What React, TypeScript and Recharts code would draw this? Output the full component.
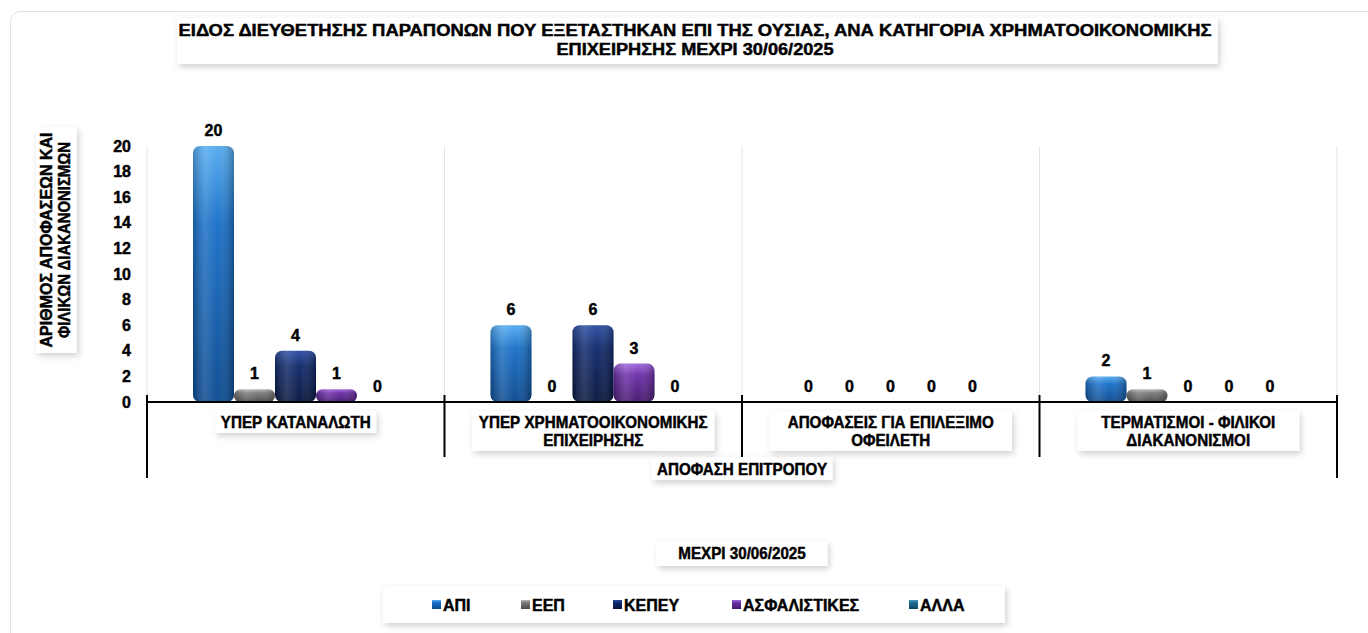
// @ts-nocheck
import React from 'react';
import { BarChart, Bar, XAxis, YAxis, CartesianGrid, LabelList } from 'recharts';

// category labels (line-broken as in the picture)
const categoryLines = [
    ['ΥΠΕΡ ΚΑΤΑΝΑΛΩΤΗ'],
    ['ΥΠΕΡ ΧΡΗΜΑΤΟΟΙΚΟΝΟΜΙΚΗΣ', 'ΕΠΙΧΕΙΡΗΣΗΣ'],
    ['ΑΠΟΦΑΣΕΙΣ ΓΙΑ ΕΠΙΛΕΞΙΜΟ', 'ΟΦΕΙΛΕΤΗ'],
    ['ΤΕΡΜΑΤΙΣΜΟΙ - ΦΙΛΙΚΟΙ', 'ΔΙΑΚΑΝΟΝΙΣΜΟΙ'],
];

const apiValues = [20, 6, 0, 2];
const eepValues = [1, 0, 0, 1];
const kepeyValues = [4, 6, 0, 0];
const asfValues = [1, 3, 0, 0];
const allaValues = [0, 0, 0, 0];

const yTicks = [0, 2, 4, 6, 8, 10, 12, 14, 16, 18, 20];

const titleLines = [
    'ΕΙΔΟΣ ΔΙΕΥΘΕΤΗΣΗΣ ΠΑΡΑΠΟΝΩΝ ΠΟΥ ΕΞΕΤΑΣΤΗΚΑΝ ΕΠΙ ΤΗΣ ΟΥΣΙΑΣ, ΑΝΑ ΚΑΤΗΓΟΡΙΑ ΧΡΗΜΑΤΟΟΙΚΟΝΟΜΙΚΗΣ',
    'ΕΠΙΧΕΙΡΗΣΗΣ ΜΕΧΡΙ 30/06/2025',
];
const yLabelLines = ['ΑΡΙΘΜΟΣ ΑΠΟΦΑΣΕΩΝ ΚΑΙ', 'ΦΙΛΙΚΩΝ ΔΙΑΚΑΝΟΝΙΣΜΩΝ'];
const xGroupLabel = 'ΑΠΟΦΑΣΗ ΕΠΙΤΡΟΠΟΥ';
const periodLabel = 'ΜΕΧΡΙ 30/06/2025';

const series = [
    { key: 'api', name: 'ΑΠΙ', values: apiValues, color: '#1a70c8', light: '#55acf0', dark: '#0b4a90' },
    { key: 'eep', name: 'ΕΕΠ', values: eepValues, color: '#7a7a7a', light: '#b8b8b8', dark: '#4a4a4a' },
    { key: 'kepey', name: 'ΚΕΠΕΥ', values: kepeyValues, color: '#10296a', light: '#2b4ea2', dark: '#07163e' },
    { key: 'asf', name: 'ΑΣΦΑΛΙΣΤΙΚΕΣ', values: asfValues, color: '#6c2ea8', light: '#a066dc', dark: '#44176e' },
    { key: 'alla', name: 'ΑΛΛΑ', values: allaValues, color: '#1e6d92', light: '#4a9cc4', dark: '#104862' },
];

const data = categoryLines.map((lines, i) => {
    const row: any = { cat: lines.join(' '), lines };
    series.forEach((s) => { row[s.key] = s.values[i]; });
    return row;
});

// layout
const W = 1368;
const H = 633;
const PLOT_LEFT = 147;
const PLOT_RIGHT = 1337;
const PLOT_TOP = 146;
const AXIS_Y = 402;
const Y_AXIS_W = 40;
const X_AXIS_H = 80;
const BAND = (PLOT_RIGHT - PLOT_LEFT) / categoryLines.length;
const FONT = '"Liberation Sans", Arial, sans-serif';
const FS = 16;
const SQUEEZE = 0.95;
const HEAVY = { stroke: '#000', strokeWidth: 0.45 };

const textW = (s: string, size = FS) => s.length * size * 0.67 * SQUEEZE;

// bold, slightly condensed label text
const T = ({ x, y, children, anchor = 'middle', rotate = 0, length = null, size = FS, squeeze = SQUEEZE }) => (
    <text
        transform={`translate(${x}, ${y}) rotate(${rotate})${length ? '' : ` scale(${squeeze}, 1)`}`}
        textAnchor={anchor}
        fontFamily={FONT}
        fontWeight="bold"
        fontSize={size}
        fill="#000"
        {...HEAVY}
        textLength={length || undefined}
        lengthAdjust={length ? 'spacingAndGlyphs' : undefined}
    >
        {children}
    </text>
);

const CylBar = (props) => {
    const { x, y, width, height, fill } = props;
    if (!height || height <= 0) return null;
    const r = Math.min(7, height / 2);
    return (
        <g>
            <rect x={x} y={y} width={width} height={height} rx={r} ry={r} fill={fill} />
            <rect x={x} y={y} width={width} height={height} rx={r} ry={r} fill="url(#shine)" />
        </g>
    );
};

const CategoryTick = (props) => {
    const { x, y, payload, index } = props;
    const lines = data[index]?.lines || [payload.value];
    const left = x - BAND / 2;
    const right = x + BAND / 2;
    const boxW = Math.max(...lines.map((l) => textW(l))) + 8;
    const boxH = lines.length * 18 + 4;
    return (
        <g>
            <line x1={left} x2={left} y1={y - 7} y2={y + (index === 0 ? 76 : 55)} stroke="#000" strokeWidth={2} />
            {index === categoryLines.length - 1 && (
                <line x1={right} x2={right} y1={y - 7} y2={y + 76} stroke="#000" strokeWidth={2} />
            )}
            <rect x={x - boxW / 2} y={y + 9} width={boxW} height={boxH} fill="#fff" filter="url(#boxShadow)" />
            {lines.map((l, i) => (
                <T key={i} x={x} y={y + 26 + i * 18}>{l}</T>
            ))}
        </g>
    );
};

const Overlay = () => {
    const legendItemX = [432, 521, 613, 732, 909];
    const gW = textW(xGroupLabel);
    const pW = textW(periodLabel);
    return (
        <svg width={W} height={H} style={{ position: 'absolute', left: 0, top: 0, pointerEvents: 'none' }}>
            <defs>
                <filter id="boxShadow" x="-20%" y="-40%" width="140%" height="200%">
                    <feDropShadow dx="2" dy="3" stdDeviation="3" floodColor="#000" floodOpacity="0.18" />
                </filter>
                <linearGradient id="shine" x1="0" y1="0" x2="1" y2="0">
                    <stop offset="0%" stopColor="#000" stopOpacity="0.22" />
                    <stop offset="30%" stopColor="#fff" stopOpacity="0.15" />
                    <stop offset="60%" stopColor="#fff" stopOpacity="0.03" />
                    <stop offset="100%" stopColor="#000" stopOpacity="0.28" />
                </linearGradient>
                {series.map((s) => (
                    <linearGradient key={s.key} id={`g-${s.key}`} x1="0" y1="0" x2="0" y2="1">
                        <stop offset="0%" stopColor={s.light} />
                        <stop offset="30%" stopColor={s.color} />
                        <stop offset="100%" stopColor={s.dark} />
                    </linearGradient>
                ))}
            </defs>

            {/* title */}
            <rect x={177} y={18} width={1041} height={46} fill="#fff" filter="url(#boxShadow)" />
            <T x={695} y={36} length={1033}>{titleLines[0]}</T>
            <T x={695} y={55} length={277}>{titleLines[1]}</T>

            {/* y axis title */}
            <rect x={36} y={127} width={41} height={226} fill="#fff" filter="url(#boxShadow)" />
            <T x={52} y={240} rotate={-90} length={215}>{yLabelLines[0]}</T>
            <T x={70} y={240} rotate={-90} length={196}>{yLabelLines[1]}</T>

            {/* category group label */}
            <rect x={742 - gW / 2 - 4} y={457} width={gW + 8} height={23} fill="#fff" filter="url(#boxShadow)" />
            <T x={742} y={475}>{xGroupLabel}</T>

            {/* period label */}
            <rect x={742 - pW / 2 - 4} y={541} width={pW + 8} height={25} fill="#fff" filter="url(#boxShadow)" />
            <T x={742} y={559}>{periodLabel}</T>

            {/* legend */}
            <rect x={383} y={586} width={622} height={37} fill="#fff" filter="url(#boxShadow)" />
            {series.map((s, i) => (
                <g key={s.key}>
                    <rect x={legendItemX[i]} y={600} width={9} height={9} fill={`url(#g-${s.key})`} />
                    <T x={legendItemX[i] + 11} y={611} anchor="start" squeeze={1}>{s.name}</T>
                </g>
            ))}
        </svg>
    );
};

export default function App() {
    return (
        <div style={{ position: 'absolute', left: 0, top: 0, width: W, height: H, background: '#fff', overflow: 'hidden' }}>
            <div style={{ position: 'absolute', left: 10, top: 11, width: W, height: H, border: '1px solid #e2e2e2', borderRadius: 10 }} />
            <Overlay />
            <div style={{ position: 'absolute', left: 0, top: 0 }}>
                <BarChart
                    width={W}
                    height={H}
                    data={data}
                    margin={{ top: PLOT_TOP, left: PLOT_LEFT - Y_AXIS_W, right: W - PLOT_RIGHT, bottom: H - AXIS_Y - X_AXIS_H }}
                    barCategoryGap={46}
                    barGap={0}
                >
                    <CartesianGrid
                        horizontal={false}
                        verticalPoints={[0, 1, 2, 3, 4].map((i) => PLOT_LEFT + i * BAND)}
                        stroke="#e4e4e4"
                        strokeWidth={1}
                    />
                    <XAxis
                        dataKey="cat"
                        interval={0}
                        tickLine={false}
                        tickSize={0}
                        tickMargin={0}
                        axisLine={{ stroke: '#000', strokeWidth: 2 }}
                        height={X_AXIS_H}
                        tick={<CategoryTick />}
                    />
                    <YAxis
                        width={Y_AXIS_W}
                        domain={[0, 20]}
                        ticks={yTicks}
                        interval={0}
                        axisLine={false}
                        tickLine={false}
                        tickMargin={10}
                        tick={{ fontSize: FS, fontWeight: 'bold', fill: '#000', fontFamily: FONT, ...HEAVY }}
                    />
                    {series.map((s) => (
                        <Bar key={s.key} dataKey={s.key} name={s.name} fill={`url(#g-${s.key})`} shape={<CylBar />} isAnimationActive={false}>
                            <LabelList dataKey={s.key} position="top" offset={10} style={{ fontSize: FS, fontWeight: 'bold', fill: '#000', fontFamily: FONT, ...HEAVY }} />
                        </Bar>
                    ))}
                </BarChart>
            </div>
        </div>
    );
}
